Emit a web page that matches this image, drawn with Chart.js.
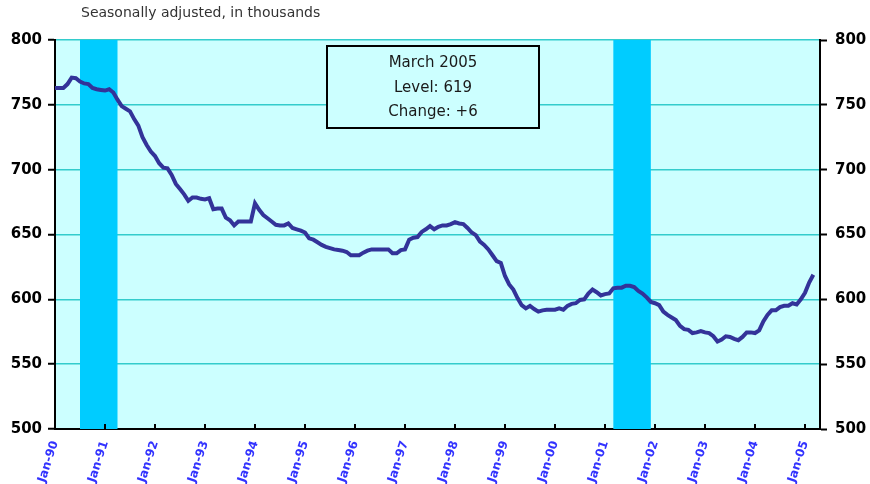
<!DOCTYPE html>
<html>
<head>
<meta charset="utf-8">
<script src="https://cdn.jsdelivr.net/npm/chart.js@4.4.1/dist/chart.umd.min.js"></script>
<style>
  html, body { margin: 0; padding: 0; background: #fff; }
</style>
</head>
<body>
<canvas id="chart" width="870" height="484"></canvas>
<script>
// monthly values, Jan-90 .. Mar-05 (thousands, seasonally adjusted)
var values = [
  763, 763, 763, 766, 771, 770.5, 768, 766.5, 766, 763, 762, 761.5,          // 1990
  761, 762, 759.5, 754, 749, 747, 745, 739, 734, 725, 719, 714,               // 1991
  710.5, 705, 701.5, 701, 696, 689, 685, 681, 676, 678.5, 678.5, 677.5,       // 1992
  677, 678, 669.5, 670, 670, 663, 661, 657, 660, 660, 660, 660,               // 1993
  674, 669, 665, 662.5, 660, 657.5, 657, 657, 658.5, 655, 654, 653,           // 1994
  651.5, 647, 646, 644, 642, 640.5, 639.5, 638.5, 638, 637.5, 636.5, 634,     // 1995
  634, 634, 636, 637.5, 638.5, 638.5, 638.5, 638.5, 638.5, 635.5, 635.5, 638, // 1996
  638.5, 646, 647.5, 648, 652, 654, 656.5, 654, 656, 657, 657, 658,           // 1997
  659.5, 658.5, 658, 655, 651.5, 649.5, 644.5, 642, 638.5, 634, 629.5, 628,   // 1998
  618, 611.5, 607.5, 601, 595.5, 593, 595, 592.5, 590.5, 591.5, 592, 592,     // 1999
  592, 593, 592, 595, 596.5, 597, 599.5, 600, 604.5, 607.5, 605.5, 603,       // 2000
  604, 604.5, 608.5, 609, 609, 610.5, 610.5, 609.5, 606.5, 604.5, 601.5, 598, // 2001
  597, 595.5, 590.5, 588, 586, 584, 579.5, 577, 576.5, 574, 574.5, 575.5,     // 2002
  574.5, 574, 571.5, 567.5, 569, 571.5, 571, 569.5, 568.5, 571, 574.5, 574.5, // 2003
  574, 576, 583, 588, 591.5, 591.5, 594, 595, 595, 597, 596, 600,             // 2004
  605, 613, 619                                                               // 2005
];
var xTickLabels = ['Jan-90','Jan-91','Jan-92','Jan-93','Jan-94','Jan-95','Jan-96','Jan-97',
                   'Jan-98','Jan-99','Jan-00','Jan-01','Jan-02','Jan-03','Jan-04','Jan-05'];
var yTicks = [500, 550, 600, 650, 700, 750, 800];
// recessions as month indexes (first month, last month)
var recessionStart = [6, 134];   // Jul-90, Mar-01
var recessionEnd = [14, 142];    // Mar-91, Nov-01
var monthNames = ['January','February','March','April','May','June','July',
                  'August','September','October','November','December'];

var points = values.map(function (v, i) { return { x: i, y: v }; });

var last = values.length - 1;
var boxLines = [
  monthNames[last % 12] + ' ' + (1990 + Math.floor(last / 12)),
  'Level: ' + values[last],
  'Change: ' + (values[last] - values[last - 1] >= 0 ? '+' : '') + (values[last] - values[last - 1])
];

// plot background, recession bands, box, subtitle
var decor = {
  id: 'decor',
  beforeDraw: function (chart) {
    var a = chart.chartArea, ctx = chart.ctx;
    ctx.save();
    ctx.fillStyle = '#ccffff';
    ctx.fillRect(a.left, a.top, a.right - a.left, a.bottom - a.top);
    ctx.restore();
  },
  beforeDatasetsDraw: function (chart) {
    var a = chart.chartArea, ctx = chart.ctx, x = chart.scales.x;
    ctx.save();
    ctx.fillStyle = '#00ccff';
    for (var k = 0; k < recessionStart.length; k++) {
      var x0 = x.getPixelForValue(recessionStart[k]);
      var x1 = x.getPixelForValue(recessionEnd[k] + 1);
      ctx.fillRect(x0, a.top, x1 - x0, a.bottom - a.top);
    }
    ctx.restore();
  },
  afterDraw: function (chart) {
    var ctx = chart.ctx, a = chart.chartArea, x = chart.scales.x;
    ctx.save();
    // inside tick marks on the category axis
    ctx.strokeStyle = '#000';
    ctx.lineWidth = 2;
    for (var t = 12; t <= 180; t += 12) {
      var px = Math.round(x.getPixelForValue(t));
      ctx.beginPath();
      ctx.moveTo(px, a.bottom);
      ctx.lineTo(px, a.bottom - 5);
      ctx.stroke();
    }
    // subtitle
    ctx.fillStyle = '#333';
    ctx.font = '14px "DejaVu Sans"';
    ctx.textBaseline = 'middle';
    ctx.textAlign = 'left';
    ctx.fillText('Seasonally adjusted, in thousands', 81, 13);
    // annotation box
    ctx.fillStyle = '#ccffff';
    ctx.fillRect(327, 46, 212, 82);
    ctx.strokeStyle = '#000';
    ctx.lineWidth = 2;
    ctx.strokeRect(327, 46, 212, 82);
    ctx.fillStyle = '#1a1a1a';
    ctx.font = '15px "DejaVu Sans"';
    ctx.textAlign = 'center';
    ctx.fillText(boxLines[0], 433, 63);
    ctx.fillText(boxLines[1], 433, 88);
    ctx.fillText(boxLines[2], 433, 112);
    ctx.restore();
  }
};

var yTickFont = { family: 'DejaVu Sans', size: 15, weight: 'bold' };

new Chart(document.getElementById('chart'), {
  type: 'line',
  data: {
    datasets: [{
      data: points,
      borderColor: '#333399',
      borderWidth: 4,
      pointRadius: 0,
      tension: 0,
      fill: false
    }]
  },
  options: {
    responsive: false,
    animation: false,
    layout: { padding: { top: 40 } },
    plugins: { legend: { display: false }, tooltip: { enabled: false } },
    scales: {
      x: {
        type: 'linear',
        min: 0,
        max: 183.6,
        grid: { drawOnChartArea: false, drawTicks: false },
        border: { color: '#000', width: 2 },
        ticks: {
          stepSize: 12,
          includeBounds: false,
          autoSkip: false,
          minRotation: 72,
          maxRotation: 72,
          padding: 10,
          color: '#3333ff',
          font: { family: 'DejaVu Sans', size: 12, weight: 'bold' },
          callback: function (v) { return xTickLabels[v / 12]; }
        },
        afterFit: function (s) { s.height = 55; }
      },
      y: {
        position: 'left',
        min: 500,
        max: 800,
        afterBuildTicks: function (s) { s.ticks = yTicks.map(function (v) { return { value: v }; }); },
        grid: { color: '#33cccc', lineWidth: 1.5, tickColor: '#000', tickLength: 7, tickWidth: 2 },
        border: { color: '#000', width: 2 },
        ticks: { color: '#000', font: yTickFont, padding: 6 },
        afterFit: function (s) { s.width = 55; }
      },
      y2: {
        position: 'right',
        min: 500,
        max: 800,
        afterBuildTicks: function (s) { s.ticks = yTicks.map(function (v) { return { value: v }; }); },
        grid: { drawOnChartArea: false, tickColor: '#000', tickLength: 7, tickWidth: 2 },
        border: { color: '#000', width: 2 },
        ticks: { color: '#000', font: yTickFont, padding: 8 },
        afterFit: function (s) { s.width = 50; }
      }
    }
  },
  plugins: [decor]
});
</script>
</body>
</html>
